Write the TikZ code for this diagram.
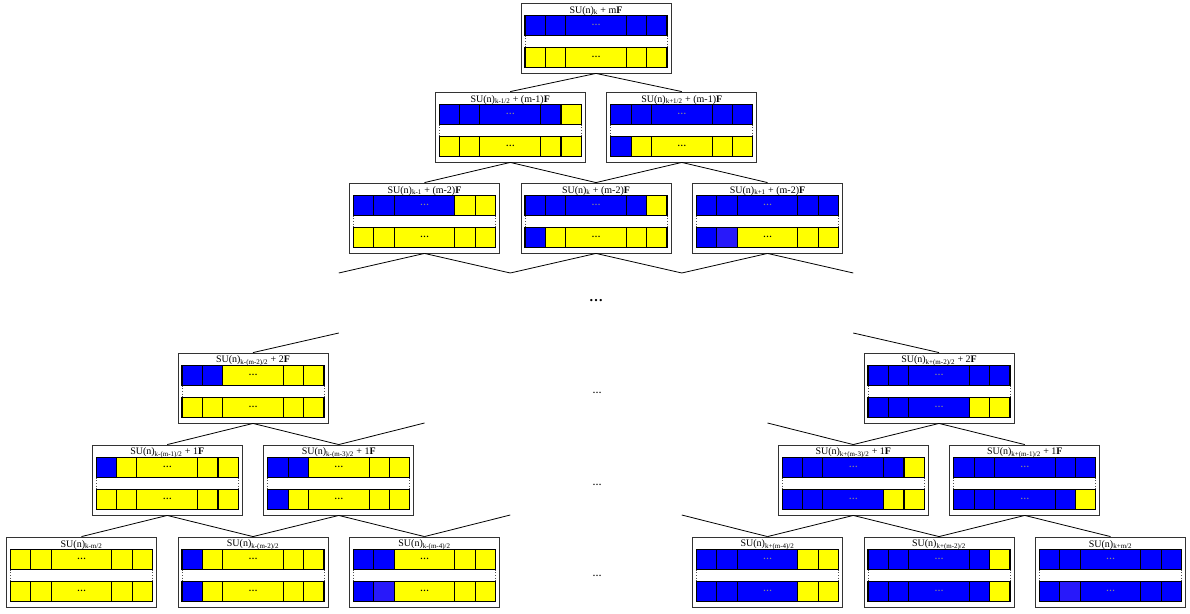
\documentclass[tikz,border=0pt]{standalone}
\usepackage{fontspec}
\setmainfont{Liberation Serif}
\definecolor{ub}{RGB}{0,0,255}
\definecolor{uy}{RGB}{255,255,0}
\definecolor{up}{RGB}{40,25,250}
\tikzset{
 ubox/.style={draw=black!80,line width=0.85pt,minimum width=150pt,minimum height=70pt,inner sep=0pt,fill=white},
 utitle/.style={inner sep=0pt,font=\fontsize{10}{11}\selectfont},
 cell/.style={draw=black,line width=1.1pt},
 sepdots/.style={draw=black!70,dotted,line width=0.7pt},
 conn/.style={draw=black,line width=0.8pt},
 udots/.style={inner sep=0pt,font=\fontsize{9}{10}\selectfont\bfseries},
 ubdots/.style={text=black!45},
 uydots/.style={text=black},
 updots/.style={text=black!45},
 bigdots/.style={inner sep=0pt,font=\fontsize{14}{16}\selectfont\bfseries},
 middots/.style={inner sep=0pt,font=\fontsize{9}{10}\selectfont\bfseries},
}
\newcommand{\urow}[6]{%
 \fill[#2] (-71,#1) rectangle (-50.7,#1+20);
 \fill[#3] (-50.7,#1) rectangle (-30.4,#1+20);
 \fill[#4] (-30.4,#1) rectangle (30.4,#1+20);
 \fill[#5] (30.4,#1) rectangle (50.7,#1+20);
 \fill[#6] (50.7,#1) rectangle (71,#1+20);
 \draw[cell] (-71,#1) rectangle (71,#1+20)
   (-50.7,#1) -- (-50.7,#1+20) (-30.4,#1) -- (-30.4,#1+20)
   (30.4,#1) -- (30.4,#1+20) (50.7,#1) -- (50.7,#1+20);
 \node[udots,#4dots] at (0,#1+9) {\dots};}
\newcommand{\ubx}[4]{%
 \node[ubox] (#1) at (#2,#3+35) {};
 \node[utitle] (#1t) at (#2,#3+8) {#4};}
\newcommand{\toprow}[6]{\begin{scope}[shift={(#1.north)}]
 \urow{13}{#2}{#3}{#4}{#5}{#6}
 \draw[sepdots] (-71,33)--(-71,45) (71,33)--(71,45);
 \end{scope}}
\newcommand{\botrow}[6]{\begin{scope}[shift={(#1.north)}]
 \urow{45}{#2}{#3}{#4}{#5}{#6}
 \end{scope}}
\begin{document}
\begin{tikzpicture}[x=1pt,y=-1pt]
\useasboundingbox (0,0) rectangle (1190,613);
% level 1
\ubx{la}{596}{3}{SU(n)\textsubscript{k} + m\textbf{F}}
\toprow{la}{ub}{ub}{ub}{ub}{ub}\botrow{la}{uy}{uy}{uy}{uy}{uy}
% level 2
\ubx{lba}{510.25}{92}{SU(n)\textsubscript{k-1/2} + (m-1)\textbf{F}}
\toprow{lba}{ub}{ub}{ub}{ub}{uy}\botrow{lba}{uy}{uy}{uy}{uy}{uy}
\ubx{lbb}{681.75}{92}{SU(n)\textsubscript{k+1/2} + (m-1)\textbf{F}}
\toprow{lbb}{ub}{ub}{ub}{ub}{ub}\botrow{lbb}{ub}{uy}{uy}{uy}{uy}
% level 3
\ubx{lca}{424.5}{183}{SU(n)\textsubscript{k-1} + (m-2)\textbf{F}}
\toprow{lca}{ub}{ub}{ub}{uy}{uy}\botrow{lca}{uy}{uy}{uy}{uy}{uy}
\ubx{lcb}{596}{183}{SU(n)\textsubscript{k} + (m-2)\textbf{F}}
\toprow{lcb}{ub}{ub}{ub}{ub}{uy}\botrow{lcb}{ub}{uy}{uy}{uy}{uy}
\ubx{lcc}{767.5}{183}{SU(n)\textsubscript{k+1} + (m-2)\textbf{F}}
\toprow{lcc}{ub}{ub}{ub}{ub}{ub}\botrow{lcc}{ub}{up}{uy}{uy}{uy}
% level 4
\ubx{lda}{253}{353}{SU(n)\textsubscript{k-(m-2)/2} + 2\textbf{F}}
\toprow{lda}{ub}{ub}{uy}{uy}{uy}\botrow{lda}{uy}{uy}{uy}{uy}{uy}
\ubx{ldb}{939}{353}{SU(n)\textsubscript{k+(m-2)/2} + 2\textbf{F}}
\toprow{ldb}{ub}{ub}{ub}{ub}{ub}\botrow{ldb}{ub}{ub}{ub}{uy}{uy}
% level 5
\ubx{lea}{167.25}{445}{SU(n)\textsubscript{k-(m-1)/2} + 1\textbf{F}}
\toprow{lea}{ub}{uy}{uy}{uy}{uy}\botrow{lea}{uy}{uy}{uy}{uy}{uy}
\ubx{leb}{338.75}{445}{SU(n)\textsubscript{k-(m-3)/2} + 1\textbf{F}}
\toprow{leb}{ub}{ub}{uy}{uy}{uy}\botrow{leb}{ub}{uy}{uy}{uy}{uy}
\ubx{lec}{853.25}{445}{SU(n)\textsubscript{k+(m-3)/2} + 1\textbf{F}}
\toprow{lec}{ub}{ub}{ub}{ub}{uy}\botrow{lec}{ub}{ub}{ub}{uy}{uy}
\ubx{led}{1024.75}{445}{SU(n)\textsubscript{k+(m-1)/2} + 1\textbf{F}}
\toprow{led}{ub}{ub}{ub}{ub}{ub}\botrow{led}{ub}{ub}{ub}{ub}{uy}
% level 6
\ubx{lfa}{81.5}{537}{SU(n)\textsubscript{k-m/2}}
\toprow{lfa}{uy}{uy}{uy}{uy}{uy}\botrow{lfa}{uy}{uy}{uy}{uy}{uy}
\ubx{lfb}{253}{537}{SU(n)\textsubscript{k-(m-2)/2}}
\toprow{lfb}{ub}{uy}{uy}{uy}{uy}\botrow{lfb}{ub}{uy}{uy}{uy}{uy}
\ubx{lfc}{424.5}{537}{SU(n)\textsubscript{k-(m-4)/2}}
\toprow{lfc}{ub}{ub}{uy}{uy}{uy}\botrow{lfc}{ub}{up}{uy}{uy}{uy}
\ubx{lfd}{767.5}{537}{SU(n)\textsubscript{k+(m-4)/2}}
\toprow{lfd}{ub}{ub}{ub}{uy}{uy}\botrow{lfd}{ub}{ub}{ub}{uy}{uy}
\ubx{lfe}{939}{537}{SU(n)\textsubscript{k+(m-2)/2}}
\toprow{lfe}{ub}{ub}{ub}{ub}{uy}\botrow{lfe}{ub}{ub}{ub}{ub}{uy}
\ubx{lff}{1110.5}{537}{SU(n)\textsubscript{k+m/2}}
\toprow{lff}{ub}{ub}{ub}{ub}{ub}\botrow{lff}{ub}{up}{ub}{ub}{ub}
% free ends
\coordinate (c1) at (338.75,273);
\coordinate (c2) at (510.25,273);
\coordinate (c3) at (681.75,273);
\coordinate (c4) at (853.25,273);
\coordinate (d1) at (338.75,333);
\coordinate (d2) at (853.25,333);
\coordinate (f1) at (424.5,423);
\coordinate (f2) at (767.5,423);
\coordinate (g1) at (510.25,515);
\coordinate (g2) at (681.75,515);
% connectors
\draw[conn] (la.south) -- (lba.north);
\draw[conn] (la.south) -- (lbb.north);
\draw[conn] (lba.south) -- (lca.north);
\draw[conn] (lba.south) -- (lcb.north);
\draw[conn] (lbb.south) -- (lcb.north);
\draw[conn] (lbb.south) -- (lcc.north);
\draw[conn] (lca.south) -- (c1);
\draw[conn] (lca.south) -- (c2);
\draw[conn] (lcb.south) -- (c2);
\draw[conn] (lcb.south) -- (c3);
\draw[conn] (lcc.south) -- (c3);
\draw[conn] (lcc.south) -- (c4);
\draw[conn] (d1) -- (lda.north);
\draw[conn] (d2) -- (ldb.north);
\draw[conn] (lda.south) -- (lea.north);
\draw[conn] (lda.south) -- (leb.north);
\draw[conn] (f1) -- (leb.north);
\draw[conn] (ldb.south) -- (lec.north);
\draw[conn] (ldb.south) -- (led.north);
\draw[conn] (f2) -- (lec.north);
\draw[conn] (lea.south) -- (lfa.north);
\draw[conn] (lea.south) -- (lfb.north);
\draw[conn] (leb.south) -- (lfb.north);
\draw[conn] (leb.south) -- (lfc.north);
\draw[conn] (g1) -- (lfc.north);
\draw[conn] (lec.south) -- (lfd.north);
\draw[conn] (lec.south) -- (lfe.north);
\draw[conn] (led.south) -- (lfe.north);
\draw[conn] (led.south) -- (lff.north);
\draw[conn] (g2) -- (lfd.north);
% ellipses
\node[bigdots] (e0) at (596,301) {\dots};
\node[middots] (e1) at (597,393) {\dots};
\node[middots] (e2) at (597,485) {\dots};
\node[middots] (e3) at (597,576) {\dots};
\end{tikzpicture}
\end{document}
